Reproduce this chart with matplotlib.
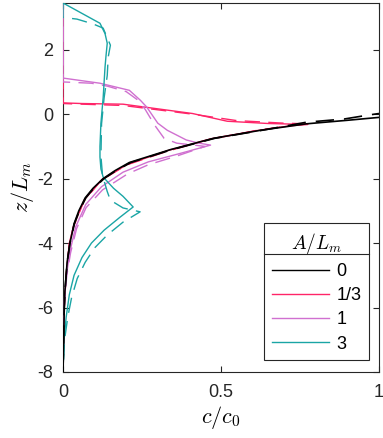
import matplotlib
matplotlib.use("Agg")
import matplotlib.pyplot as plt
from matplotlib.lines import Line2D

plt.rcParams['font.family'] = ['Liberation Sans', 'DejaVu Sans']
plt.rcParams['mathtext.fontset'] = 'cm'
plt.rcParams['axes.unicode_minus'] = False

# A/L_m = 0
z0 = [-8, -7, -6, -5.5, -5, -4.6, -4, -3.4, -3, -2.6, -2.3, -2.0, -1.75, -1.5, -1.1, -0.75, -0.5, -0.3, -0.19, -0.1]
c0 = [0.0, 0.002, 0.004, 0.006, 0.01, 0.013, 0.022, 0.035, 0.05, 0.07, 0.095, 0.127, 0.165, 0.21, 0.34, 0.476, 0.625, 0.77, 0.9, 1.0]
z0d = [-8, -7, -6, -5.5, -5, -4.6, -4, -3.4, -3, -2.6, -2.3, -2.0, -1.75, -1.5, -1.1, -0.75, -0.5, -0.25, -0.15, -0.03, 0.02]
c0d = [0.0, 0.002, 0.004, 0.006, 0.01, 0.013, 0.022, 0.036, 0.052, 0.072, 0.097, 0.13, 0.168, 0.215, 0.345, 0.48, 0.63, 0.77, 0.89, 0.965, 1.0]

# A/L_m = 1/3
z13 = [3.45, 0.35, 0.33, 0.31, 0.02, -0.22, -0.29, -0.32, -0.36, -0.5, -0.76, -1.12, -1.55, -2.03, -2.65, -3.45, -4.0, -5.0, -6.0, -8]
c13 = [0.0, 0.0, 0.06, 0.19, 0.41, 0.52, 0.65, 0.775, 0.72, 0.62, 0.47, 0.335, 0.205, 0.123, 0.068, 0.034, 0.02, 0.01, 0.004, 0.0]
z13d = [3.45, 0.33, 0.31, 0.27, 0.0, -0.2, -0.28, -0.3, -0.34, -0.5, -0.78, -1.15, -1.58, -2.06, -2.7, -3.5, -4.05, -5.0, -6.0, -8]
c13d = [0.0, 0.0, 0.06, 0.19, 0.41, 0.55, 0.7, 0.78, 0.73, 0.615, 0.465, 0.33, 0.2, 0.12, 0.066, 0.033, 0.02, 0.01, 0.004, 0.0]

# A/L_m = 1
z1 = [3.45, 1.12, 0.96, 0.74, 0.43, 0.22, -0.28, -0.5, -0.8, -0.9, -0.96, -1.22, -1.48, -1.8, -2.25, -2.8, -3.5, -4.3, -5.0, -6.0, -8]
c1 = [0.0, 0.0, 0.117, 0.21, 0.245, 0.265, 0.3, 0.33, 0.39, 0.43, 0.467, 0.37, 0.27, 0.19, 0.122, 0.072, 0.04, 0.021, 0.011, 0.002, 0.0]
z1d = [3.45, 1.0, 0.96, 0.87, 0.7, 0.45, 0.15, -0.34, -0.75, -0.9, -1.0, -1.3, -1.57, -1.85, -2.35, -2.9, -3.55, -4.3, -5.0, -6.2, -8]
c1d = [0.0, 0.0, 0.09, 0.14, 0.2, 0.235, 0.26, 0.29, 0.32, 0.36, 0.45, 0.36, 0.27, 0.205, 0.125, 0.073, 0.043, 0.024, 0.012, 0.002, 0.0]

# A/L_m = 3
z3 = [3.45, 2.82, 2.5, 2.2, 1.8, 1.46, 0.5, -0.28, -1.0, -1.33, -1.7, -1.95, -2.3, -2.55, -2.88, -3.2, -3.6, -4.0, -4.45, -5.0, -5.6, -6.3, -7.0, -8]
c3 = [0.0, 0.117, 0.133, 0.14, 0.136, 0.133, 0.127, 0.12, 0.117, 0.117, 0.12, 0.127, 0.16, 0.19, 0.222, 0.18, 0.13, 0.09, 0.06, 0.035, 0.02, 0.01, 0.003, 0.0]
z3d = [3.45, 3.0, 2.95, 2.8, 2.67, 2.14, 1.77, 1.2, 0.5, -0.3, -1.3, -1.9, -2.4, -2.67, -2.91, -3.03, -3.35, -3.75, -4.15, -4.6, -5.1, -5.7, -6.3, -7.0, -8]
c3d = [0.0, 0.0, 0.044, 0.095, 0.127, 0.15, 0.143, 0.14, 0.13, 0.122, 0.12, 0.125, 0.14, 0.15, 0.19, 0.244, 0.19, 0.14, 0.10, 0.07, 0.045, 0.027, 0.015, 0.005, 0.0]

labels = ['0', '1/3', '1', '3']
colors = ['black', '#FF2468', '#D070D0', '#1AA5A5']

fig = plt.figure(figsize=(3.83, 4.38), dpi=100)
ax = fig.add_axes([0.1645, 0.1507, 0.825, 0.8425])

series = [(c0, z0, c0d, z0d), (c13, z13, c13d, z13d), (c1, z1, c1d, z1d), (c3, z3, c3d, z3d)]
zorders = [6, 3, 4, 5]
for (cs, zs, cd, zd), col, zo in zip(series, colors, zorders):
    lw = 1.2 if col == 'black' else 1.0
    ax.plot(cs, zs, color=col, lw=lw, zorder=zo)
    ax.plot(cd, zd, color=col, lw=lw, ls=(0, (11, 6)), zorder=zo)

# legend handles drawn thin like the reference
handles = [Line2D([], [], color=col, lw=1.0) for col in colors]

ax.set_xlim(0, 1)
ax.set_ylim(-8, 3.45)
ax.set_xticks([0, 0.5, 1])
ax.set_xticklabels(['0', '0.5', '1'])
ax.set_yticks([-8, -6, -4, -2, 0, 2])
ax.tick_params(direction='in', top=True, right=True, length=4, labelsize=13,
               color='#262626', labelcolor='#262626')
ax.tick_params(axis='x', pad=9)
ax.tick_params(axis='y', pad=7)
for s in ax.spines.values():
    s.set_color('#262626')
    s.set_linewidth(0.8)

ax.set_xlabel('$c/c_0$', fontsize=16, labelpad=2)
ax.set_ylabel('$z/L_m$', fontsize=16, labelpad=1)

leg = ax.legend(handles=handles, labels=labels, title='$A/L_m$', loc='lower right',
                bbox_to_anchor=(0.968, 0.033), borderaxespad=0, fontsize=13,
                title_fontsize=14, handlelength=3.2, handletextpad=0.4,
                labelspacing=0.4, fancybox=False, framealpha=1,
                edgecolor='#262626', borderpad=0.4)
leg.get_frame().set_linewidth(0.8)
leg.set_zorder(10)

# separator line under the legend title
fig.canvas.draw()
inv = fig.transFigure.inverted()
lb = leg.get_window_extent()
t0 = leg.get_texts()[0].get_window_extent()
y_sep = (t0.y0 + t0.y1) / 2 + 17
(x0, y0) = inv.transform((lb.x0, y_sep))
(x1, _) = inv.transform((lb.x1, y_sep))
fig.add_artist(Line2D([x0, x1], [y0, y0], transform=fig.transFigure,
                      color='#262626', lw=0.8, zorder=11))

fig.savefig('out.png', dpi=100)
